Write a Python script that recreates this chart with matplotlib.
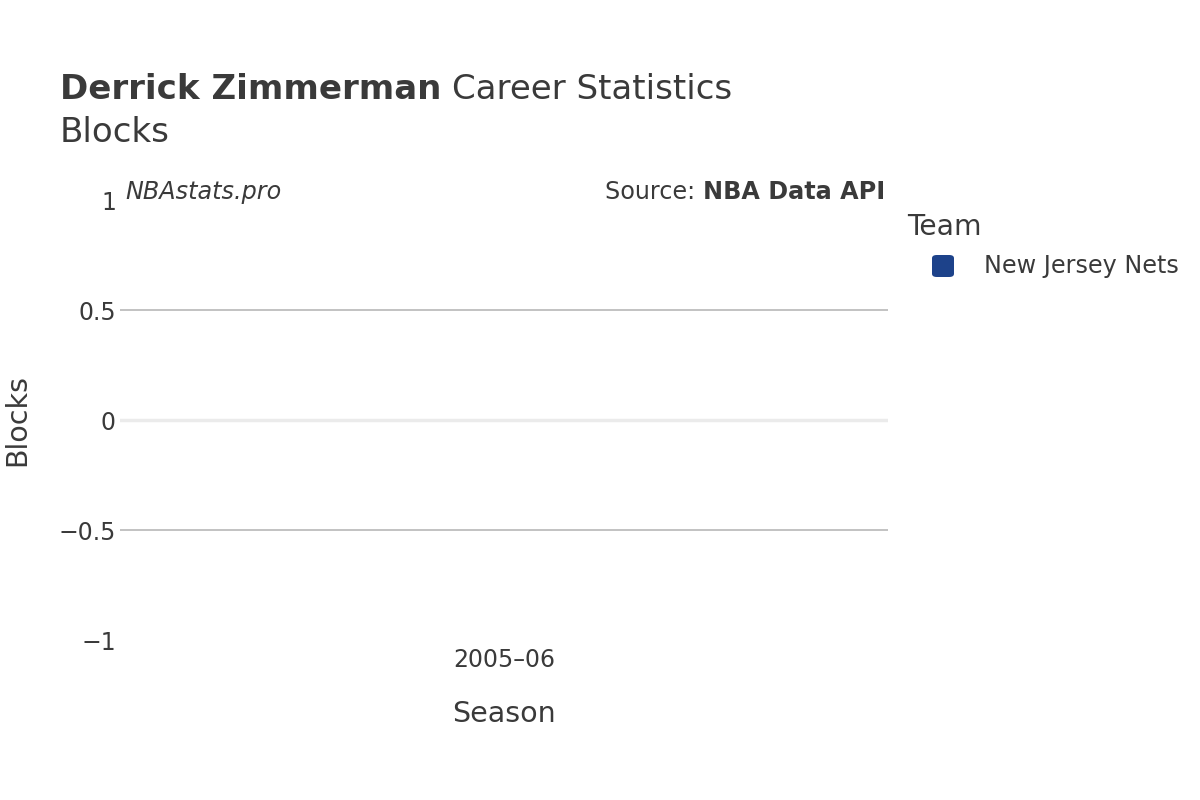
import matplotlib.pyplot as plt
from matplotlib.patches import FancyBboxPatch

# data
seasons = ['2005–06']
teams = ['New Jersey Nets']
blocks = [0]
team_colors = ['#1d428a']

yticks = [-1, -0.5, 0, 0.5, 1]
ytick_labels = ['−1', '−0.5', '0', '0.5', '1']

txt = '#3a3a3a'
plt.rcParams['font.family'] = ['DejaVu Sans']

W, H = 1200, 800
fig = plt.figure(figsize=(12, 8), dpi=100)
ax = fig.add_axes([120 / W, 1 - 640 / H, 768 / W, 440 / H])

ax.bar(seasons, blocks, width=0.8, color=team_colors[0])
ax.set_xlim(-0.5, 0.5)
ax.set_ylim(-1, 1)

# grid lines
for y in [-0.5, 0.5]:
    ax.axhline(y, color='#bdbdbd', linewidth=1.3, zorder=0)
ax.axhline(0, color='#ebebeb', linewidth=2.5, zorder=0)

for s in ax.spines.values():
    s.set_visible(False)
ax.tick_params(length=0, labelsize=17, colors=txt)
ax.tick_params(axis='y', pad=3)
ax.tick_params(axis='x', pad=6)
ax.set_yticks(yticks)
ax.set_yticklabels(ytick_labels)

ax.set_xlabel('Season', fontsize=20.5, color=txt, labelpad=20)
fig.text(17 / W, 1 - 420 / H, 'Blocks', rotation=90, fontsize=20.5, color=txt,
         ha='center', va='center')

# title (bold + regular)
fig.canvas.draw()
r = fig.canvas.get_renderer()
t1 = fig.text(60 / W, 1 - 99 / H, 'Derrick Zimmerman', fontsize=24.5, fontweight='bold',
              color=txt, va='baseline')
bb = t1.get_window_extent(r)
fig.text(bb.x1 / W + 11 / W, 1 - 99 / H, 'Career Statistics', fontsize=24.5, color=txt,
         va='baseline')
fig.text(60 / W, 1 - 142 / H, 'Blocks', fontsize=24.5, color=txt, va='baseline')

# annotations
fig.text(125 / W, 1 - 192 / H, 'NBAstats.pro', fontsize=17.2, style='italic', color=txt,
         va='center')
t2 = fig.text(885 / W, 1 - 192 / H, 'NBA Data API', fontsize=17.2, fontweight='bold',
              color=txt, va='center', ha='right')
bb2 = t2.get_window_extent(r)
fig.text(bb2.x0 / W, 1 - 192 / H, 'Source: ', fontsize=17.2, color=txt, va='center',
         ha='right')

# legend
fig.text(907 / W, 1 - 227 / H, 'Team', fontsize=20.3, color=txt, va='center')
for i, team in enumerate(teams):
    yc = 266 + i * 30
    fig.patches.append(FancyBboxPatch((932 / W, 1 - (yc + 11) / H), 22 / W, 22 / H,
                                      boxstyle='round,pad=0,rounding_size=0.004',
                                      transform=fig.transFigure, facecolor=team_colors[i],
                                      edgecolor='none'))
    fig.text(984 / W, 1 - yc / H, team, fontsize=17.2, color=txt, va='center')

fig.savefig('out.png', dpi=100)
